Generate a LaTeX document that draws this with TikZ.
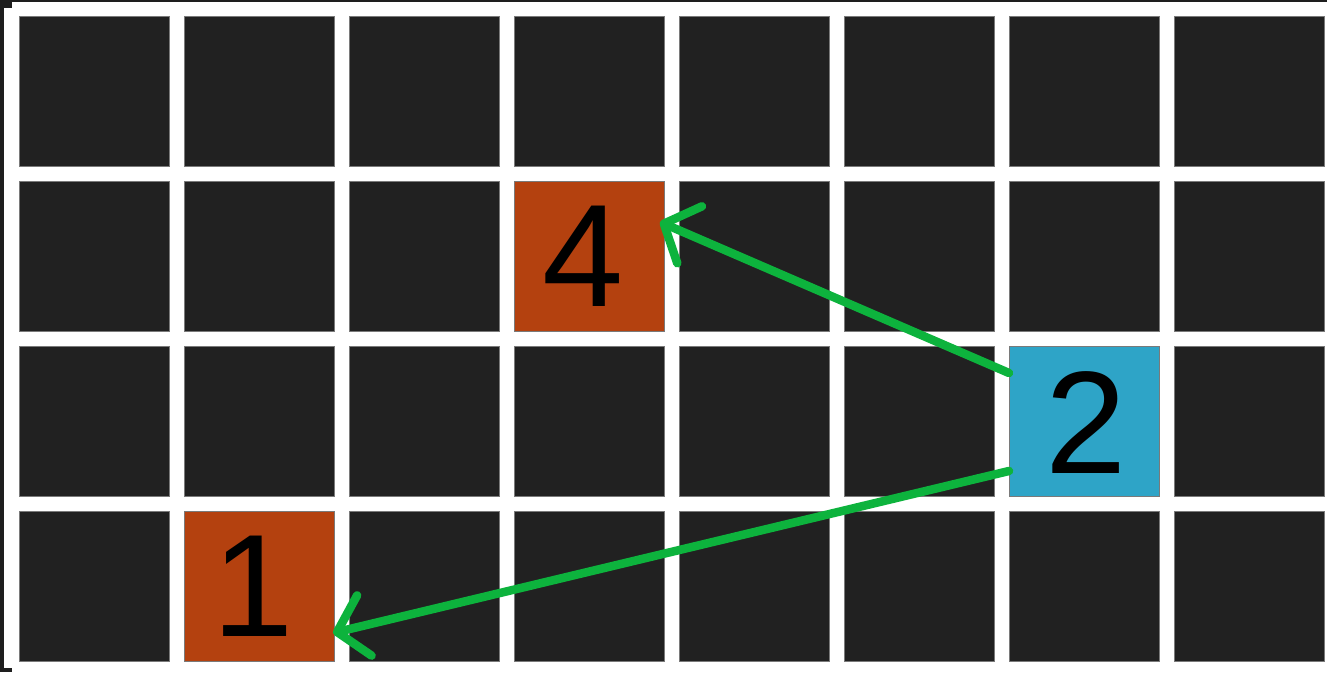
\documentclass[tikz,border=0pt]{standalone}
\usepackage{fontspec}
\setmainfont{Liberation Sans}
\usetikzlibrary{arrows.meta,calc}
\definecolor{cellbg}{HTML}{212121}
\definecolor{celledge}{HTML}{7A7A7A}
\definecolor{hotorange}{HTML}{B4410F}
\definecolor{hotblue}{HTML}{2EA4C7}
\definecolor{arrowgreen}{HTML}{0DB33D}
\definecolor{framedark}{HTML}{1E1E1E}
\tikzset{
  cell/.style={draw=celledge, line width=0.8pt, fill=cellbg, minimum size=150pt, inner sep=0pt, outer sep=0pt},
  hotcell/.style={cell, font=\fontsize{146pt}{146pt}\selectfont, text=black},
  jump/.style={draw=arrowgreen, line width=8.5pt, line cap=round, line join=round,
    -{Straight Barb[length=28pt,width=62pt,line width=8.5pt,round]}}
}
\begin{document}
\begin{tikzpicture}[x=1pt,y=-1pt]
\useasboundingbox (0,0) rectangle (1327,672);
\fill[white] (0,0) rectangle (1327,672);
% dark frame at the top-left edge
\fill[framedark] (0,0) rectangle (1327,2);
\fill[framedark] (0,0) rectangle (4,672);
\fill[framedark] (4,2) rectangle (12,8);
\fill[framedark] (4,668) rectangle (12,672);
% grid of cells
\foreach \c in {0,...,7}{
  \foreach \r in {0,...,3}{
    \node[cell] (c\c\r) at ({94+165*\c},{91+165*\r}) {};
  }
}
% highlighted cells
\node[hotcell, fill=hotorange] (four) at (c31) {};
\node[hotcell, fill=hotblue] (two) at (c62) {};
\node[hotcell, fill=hotorange] (one) at (c13) {};
\node[font=\fontsize{146pt}{146pt}\selectfont, inner sep=0pt] (fourtxt) at ([xshift=-6pt]four.center) {4};
\node[font=\fontsize{146pt}{146pt}\selectfont, inner sep=0pt] (twotxt) at ([xshift=2pt,yshift=-2pt]two.center) {2};
\node[font=\fontsize{146pt}{146pt}\selectfont, inner sep=0pt] (onetxt) at ([xshift=-6pt]one.center) {1};
% jumps
\coordinate (s4) at ([yshift=48pt]two.west);
\coordinate (t4) at ([xshift=-4pt,yshift=34pt]four.east);
\coordinate (s1) at ([yshift=-50pt]two.west);
\coordinate (t1) at ([xshift=-1pt,yshift=-47pt]one.east);
\draw[jump] (s4) -- (t4);
\draw[jump] (s1) -- (t1);
\end{tikzpicture}
\end{document}
